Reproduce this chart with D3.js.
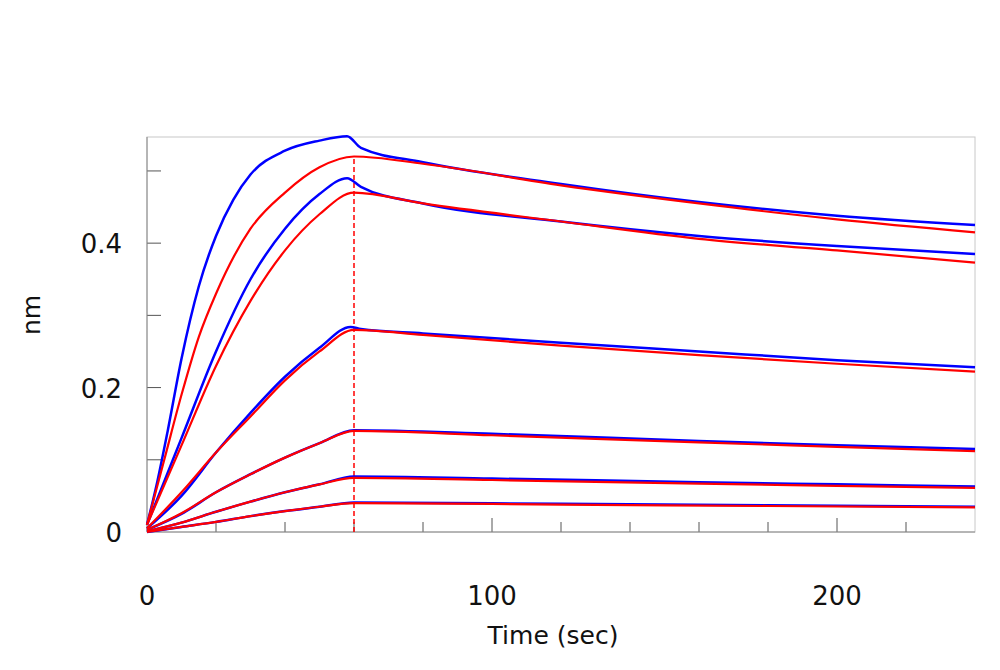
<!DOCTYPE html>
<html><head><meta charset="utf-8">
<script src="https://cdn.jsdelivr.net/npm/d3@7"></script>
<style>body{margin:0;background:#fff}text{font-family:"DejaVu Sans",sans-serif;fill:#111}</style>
</head><body><div id="chart"></div>
<script>
// sensorgram curves: [time, response nm]
var measured = [
  [[0,0.01],[3,0.07],[6,0.14],[10,0.24],[15,0.34],[20,0.41],[25,0.46],[30,0.495],[40,0.528],[50,0.542],[58,0.548],[62,0.532],[80,0.512],[120,0.482],[160,0.457],[200,0.438],[240,0.425]],
  [[0,0.01],[5,0.07],[10,0.13],[20,0.25],[30,0.35],[40,0.42],[50,0.468],[58,0.49],[62,0.478],[80,0.455],[120,0.43],[160,0.41],[200,0.396],[240,0.385]],
  [[0,0.005],[10,0.05],[20,0.11],[30,0.165],[40,0.215],[50,0.255],[59,0.284],[62,0.281],[80,0.275],[120,0.262],[160,0.25],[200,0.238],[240,0.228]],
  [[0,0.003],[10,0.025],[20,0.055],[30,0.08],[40,0.103],[50,0.123],[60,0.141],[100,0.136],[160,0.126],[200,0.12],[240,0.115]],
  [[0,0.001],[10,0.013],[20,0.028],[30,0.042],[40,0.055],[50,0.066],[60,0.077],[100,0.074],[160,0.069],[200,0.066],[240,0.063]],
  [[0,0.0],[10,0.007],[20,0.014],[30,0.022],[40,0.029],[50,0.035],[60,0.041],[120,0.039],[180,0.037],[240,0.035]]
];
var fitted = [
  [[0,0.01],[5,0.10],[10,0.19],[15,0.27],[20,0.33],[30,0.42],[40,0.47],[50,0.505],[60,0.52],[80,0.51],[120,0.48],[160,0.455],[200,0.433],[240,0.415]],
  [[0,0.01],[10,0.12],[20,0.23],[30,0.32],[40,0.39],[50,0.44],[60,0.47],[80,0.455],[120,0.43],[160,0.406],[200,0.39],[240,0.373]],
  [[0,0.005],[10,0.055],[20,0.11],[30,0.16],[40,0.21],[50,0.25],[60,0.28],[80,0.273],[120,0.258],[160,0.245],[200,0.233],[240,0.222]],
  [[0,0.003],[10,0.026],[20,0.055],[30,0.08],[40,0.103],[50,0.123],[60,0.14],[100,0.134],[160,0.124],[200,0.118],[240,0.112]],
  [[0,0.001],[10,0.013],[20,0.028],[30,0.042],[40,0.055],[50,0.066],[60,0.075],[100,0.072],[160,0.067],[200,0.064],[240,0.061]],
  [[0,0.0],[10,0.007],[20,0.014],[30,0.022],[40,0.029],[50,0.035],[60,0.04],[120,0.038],[180,0.036],[240,0.034]]
];
var xTicks = [0,100,200];
var yTicks = [0,0.2,0.4];
var switchTime = 60;

var svg = d3.select("#chart").append("svg").attr("width",1000).attr("height",670);
var margin = {left:147, right:25, top:137, bottom:138};
var x = d3.scaleLinear().domain([0,240]).range([margin.left, 1000-margin.right]);
var y = d3.scaleLinear().domain([0,0.547]).range([670-margin.bottom, margin.top]);

svg.append("rect").attr("x",x(0)).attr("y",y(0.547)).attr("width",x(240)-x(0)).attr("height",y(0)-y(0.547))
  .attr("fill","none").attr("stroke","#c8c8c8");

// ticks inward
svg.selectAll(".xt").data(d3.range(20,240,20)).join("line")
  .attr("x1",d=>x(d)).attr("x2",d=>x(d)).attr("y1",y(0)).attr("y2",d=>y(0)-(d%100==0?14:10)).attr("stroke","#555");
svg.selectAll(".yt").data(d3.range(0.1,0.55,0.1)).join("line")
  .attr("x1",x(0)).attr("x2",x(0)+14).attr("y1",d=>y(d)).attr("y2",d=>y(d)).attr("stroke","#555");
svg.append("line").attr("x1",x(0)).attr("x2",x(0)).attr("y1",y(0)).attr("y2",y(0.547)).attr("stroke","#888");
svg.append("line").attr("x1",x(0)).attr("x2",x(240)).attr("y1",y(0)).attr("y2",y(0)).attr("stroke","#888");

svg.selectAll(".xl").data(xTicks).join("text").attr("x",d=>x(d)).attr("y",605)
  .attr("text-anchor","middle").attr("font-size",26).text(d=>d);
svg.selectAll(".yl").data(yTicks).join("text").attr("x",122).attr("y",d=>y(d)+10)
  .attr("text-anchor","end").attr("font-size",26).text(d=>d);
svg.append("text").attr("x",553).attr("y",644).attr("text-anchor","middle").attr("font-size",25).text("Time (sec)");
svg.append("text").attr("transform","translate(40,315) rotate(-90)").attr("text-anchor","middle").attr("font-size",25).text("nm");

var line = d3.line().x(d=>x(d[0])).y(d=>y(d[1])).curve(d3.curveMonotoneX);
svg.append("line").attr("x1",x(switchTime)).attr("x2",x(switchTime)).attr("y1",y(0)).attr("y2",y(0.52))
  .attr("stroke","red").attr("stroke-width",1.5).attr("stroke-dasharray","5,3");
svg.selectAll(".m").data(measured).join("path").attr("d",line).attr("fill","none").attr("stroke","#0000ff").attr("stroke-width",2.5);
svg.selectAll(".f").data(fitted).join("path").attr("d",line).attr("fill","none").attr("stroke","#ff0000").attr("stroke-width",2.2);
</script></body></html>
